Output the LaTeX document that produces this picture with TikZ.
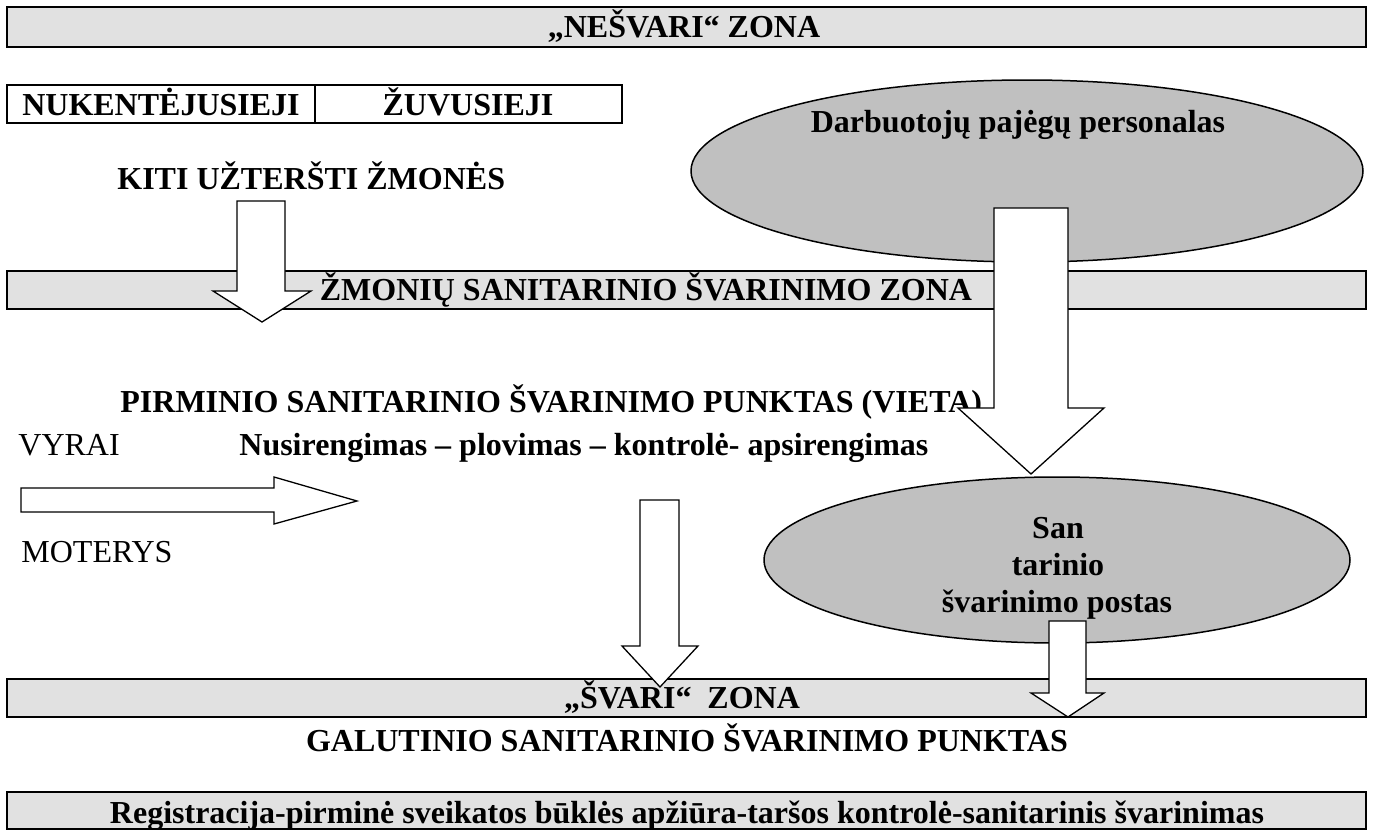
\documentclass[tikz,border=0pt]{standalone}
\usepackage{fontspec}
\setmainfont{Liberation Serif}
\definecolor{barfill}{HTML}{E1E1E1}
\definecolor{ovalfill}{HTML}{C0C0C0}
\begin{document}
\begin{tikzpicture}[x=0.5pt,y=-0.5pt,
  bar/.style={draw, line width=1.15pt, fill=barfill},
  cellbox/.style={draw, line width=1.1pt},
  blk/.style={draw, line width=0.65pt, fill=white, line join=miter},
  oval/.style={draw, line width=0.75pt, fill=ovalfill},
  lbl/.style={font=\fontsize{16}{19}\selectfont\bfseries, inner sep=0pt, anchor=base},
  lblw/.style={lbl, anchor=base west},
  plain/.style={font=\fontsize{16}{19}\selectfont, inner sep=0pt, anchor=base west}]
\useasboundingbox (0,0) rectangle (1373,830);
% bars
\draw[bar] (7,7) rectangle (1366,47);
\node[lbl] (nesvari) at (684,38) {„NEŠVARI“ ZONA};
\draw[cellbox] (7,85) rectangle (622,123);
\draw[cellbox] (315,85) -- (315,123);
\node[lbl] (nuk) at (161,115) {NUKENTĖJUSIEJI};
\node[lbl] (zuv) at (468,115) {ŽUVUSIEJI};
\node[lblw] (kiti) at (117,189) {KITI UŽTERŠTI ŽMONĖS};
% big ellipse
\draw[oval] (1027,171) ellipse [x radius=336, y radius=91];
\node[lbl] (darb) at (1018,132) {Darbuotojų pajėgų personalas};
% middle bar
\draw[bar] (7,271) rectangle (1366,309);
\node[lbl] (zmoniu) at (646,300) {ŽMONIŲ SANITARINIO ŠVARINIMO ZONA};
% texts
\node[lblw] (pirm) at (120,412) {PIRMINIO SANITARINIO ŠVARINIMO PUNKTAS (VIETA)};
\node[plain] (vyrai) at (18,455) {VYRAI};
\node[lblw] (nusi) at (239,455) {Nusirengimas – plovimas – kontrolė- apsirengimas};
\node[plain] (moterys) at (21,562) {MOTERYS};
% small ellipse
\draw[oval] (1057,560) ellipse [x radius=293, y radius=83];
\node[lbl] (san1) at (1058,538) {San};
\node[lbl] (san2) at (1058,575) {tarinio};
\node[lbl] (san3) at (1057,612) {švarinimo postas};
% clean bar
\draw[bar] (7,679) rectangle (1366,717);
\node[lbl] (svari) at (682,708) {„ŠVARI“~ ZONA};
\node[lbl] (galut) at (687,751) {GALUTINIO SANITARINIO ŠVARINIMO PUNKTAS};
\draw[bar] (7,792) rectangle (1366,829);
\node[lbl] (regis) at (687,823) {Registracija-pirminė sveikatos būklės apžiūra-taršos kontrolė-sanitarinis švarinimas};
% block arrows
\draw[blk] (237,201) -- (285,201) -- (285,291) -- (311,291) -- (262,322) -- (213,291) -- (237,291) -- cycle;
\draw[blk] (994,208) -- (1068,208) -- (1068,408) -- (1104,408) -- (1031,474) -- (958,408) -- (994,408) -- cycle;
\draw[blk] (21,488) -- (274,488) -- (274,477) -- (357,501) -- (274,524) -- (274,512) -- (21,512) -- cycle;
\draw[blk] (640,500) -- (679,500) -- (679,646) -- (698,646) -- (660,687) -- (622,646) -- (640,646) -- cycle;
\draw[blk] (1049,621) -- (1086,621) -- (1086,693) -- (1104,693) -- (1068,717) -- (1031,693) -- (1049,693) -- cycle;
\end{tikzpicture}
\end{document}
